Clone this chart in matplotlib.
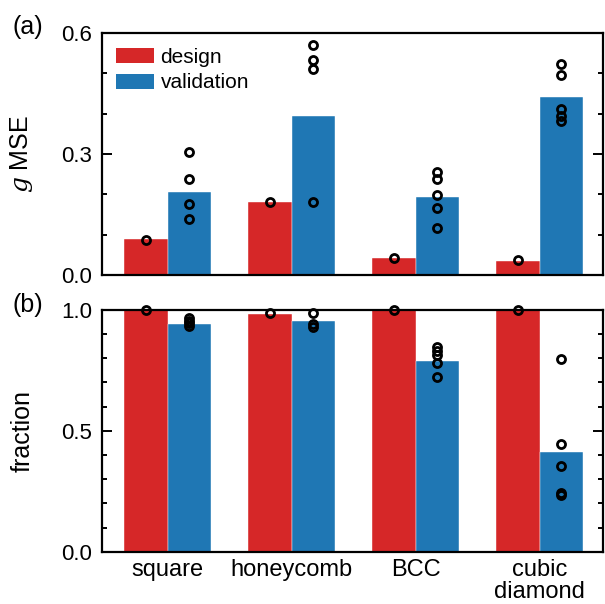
import matplotlib
matplotlib.use("Agg")
import matplotlib.pyplot as plt
import numpy as np
from matplotlib.patches import Patch

plt.rcParams['font.family'] = ['Liberation Sans', 'DejaVu Sans']
plt.rcParams['mathtext.fontset'] = 'dejavuserif'

categories = ["square", "honeycomb", "BCC", "cubic\ndiamond"]
series = ["design", "validation"]
colors = ["#d62728", "#1f77b4"]

# panel (a): g MSE
mse_design = [0.0885, 0.182, 0.043, 0.0355]
mse_valid = [0.205, 0.394, 0.194, 0.441]
mse_design_pts = [[0.088], [0.181], [0.043], [0.037]]
mse_valid_pts = [[0.304, 0.237, 0.175, 0.138],
                 [0.570, 0.533, 0.510, 0.182],
                 [0.256, 0.237, 0.198, 0.167, 0.117],
                 [0.522, 0.496, 0.412, 0.393, 0.382]]

# panel (b): fraction
frac_design = [1.0, 0.983, 1.0, 1.0]
frac_valid = [0.941, 0.956, 0.790, 0.414]
frac_design_pts = [[1.0], [0.986], [1.0], [1.0]]
frac_valid_pts = [[0.965, 0.955, 0.945, 0.935],
                  [0.986, 0.941, 0.931],
                  [0.846, 0.832, 0.814, 0.782, 0.724],
                  [0.797, 0.446, 0.356, 0.242, 0.235]]

fig = plt.figure(figsize=(6.05, 6.04), dpi=100)
ax1 = fig.add_axes([0.168, 0.5447, 0.8287, 0.4007])
ax2 = fig.add_axes([0.168, 0.0866, 0.8287, 0.4002])

x = np.arange(len(categories))
w = 0.35

def draw(ax, d, v, dp, vp):
    ax.bar(x - w/2, d, w, color=colors[0], edgecolor='white', linewidth=0.3, zorder=1)
    ax.bar(x + w/2, v, w, color=colors[1], edgecolor='white', linewidth=0.3, zorder=1)
    for i in range(len(categories)):
        ax.plot([x[i] - w/2]*len(dp[i]), dp[i], 'o', mfc='none', mec='black',
                ms=5.8, mew=2.0, zorder=3, clip_on=False)
        ax.plot([x[i] + w/2]*len(vp[i]), vp[i], 'o', mfc='none', mec='black',
                ms=5.8, mew=2.0, zorder=3, clip_on=False)
    ax.set_xlim(-0.532, 3.51)
    for s in ax.spines.values():
        s.set_linewidth(1.6)
        s.set_zorder(4)
    ax.tick_params(axis='y', which='both', direction='in', left=True, right=True,
                   labelsize=16, width=1.4, pad=7)
    ax.tick_params(axis='y', which='major', length=7)
    ax.tick_params(axis='y', which='minor', length=3.5)
    ax.tick_params(axis='x', length=0, labelsize=17, pad=5)
    ax.yaxis.set_label_coords(-0.133, 0.5)

draw(ax1, mse_design, mse_valid, mse_design_pts, mse_valid_pts)
ax1.set_ylim(0, 0.6)
ax1.set_yticks([0.0, 0.3, 0.6])
ax1.set_yticks([0.1, 0.2, 0.4, 0.5], minor=True)
ax1.set_xticks([])
ax1.set_ylabel(r"$g$ MSE", fontsize=18)

draw(ax2, frac_design, frac_valid, frac_design_pts, frac_valid_pts)
ax2.set_ylim(0, 1.0)
ax2.set_yticks([0.0, 0.5, 1.0])
ax2.set_yticks(np.arange(0.1, 1.0, 0.1), minor=True)
ax2.set_xticks(x)
ax2.set_xticklabels(categories, linespacing=1.0)
ax2.set_ylabel("fraction", fontsize=18)

handles = [Patch(facecolor=colors[0]), Patch(facecolor=colors[1])]
ax1.legend(handles, series, loc='upper left', frameon=False, fontsize=15,
           handlelength=1.83, handleheight=0.72, handletextpad=0.3,
           labelspacing=0.33, borderaxespad=0.3, bbox_to_anchor=(0.0, 1.0))

fig.text(0.02, 0.9545, "(a)", fontsize=18, va='center', ha='left')
fig.text(0.02, 0.495, "(b)", fontsize=18, va='center', ha='left')

fig.savefig("out.png", dpi=100)
